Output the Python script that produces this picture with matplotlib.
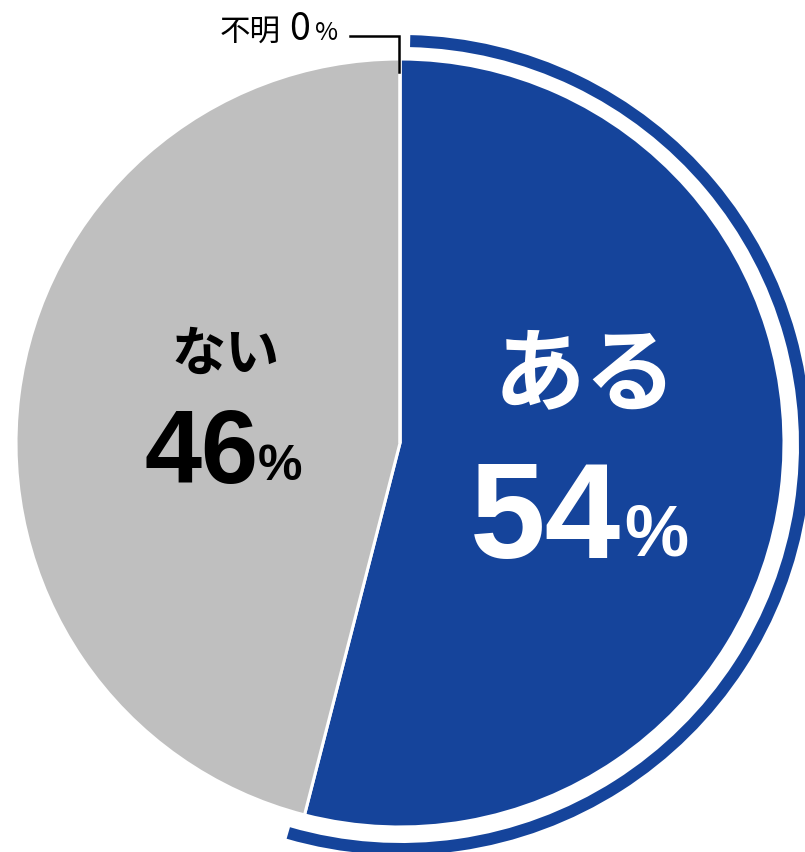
import matplotlib
matplotlib.use("Agg")
import matplotlib.pyplot as plt
from matplotlib.patches import Wedge

# Survey shares (percent)
labels = ["ある", "ない", "不明"]
values = [54, 46, 0]
colors = ["#15449B", "#BFBFBF", "#BFBFBF"]

W, H = 805, 852
fig = plt.figure(figsize=(W / 100, H / 100), dpi=100)
ax = fig.add_axes([0, 0, 1, 1])

cx, cy, R = 400, H - 443, 384

ax.pie(values, colors=colors, startangle=90, counterclock=False,
       center=(cx, cy), radius=R, frame=True,
       wedgeprops=dict(edgecolor="white", linewidth=2.2))
ax.set_xlim(0, W)
ax.set_ylim(0, H)
ax.set_aspect("equal")
ax.axis("off")

# Highlight ring around the "ある" slice
total = sum(values)
t_end = 90 - 360 * values[0] / total
ring = Wedge((cx + 1, cy - 2), 410, t_end - 1.8, 90 - 1.3, width=12,
             facecolor="#15449B", edgecolor="none")
ax.add_patch(ring)

jp = ["Noto Sans CJK JP", "DejaVu Sans"]
num = ["Liberation Sans", "DejaVu Sans"]

# ある 54%
ax.text(585, H - 376, labels[0], color="white", fontsize=66, fontweight="bold",
        family=jp, ha="center", va="center")
ax.text(545, H - 523, f"{values[0]}", color="white", fontsize=98, fontweight="bold",
        family=num, ha="center", va="center")
ax.text(656, H - 536, "%", color="white", fontsize=52, fontweight="bold",
        family=num, ha="center", va="center")

# ない 46%
ax.text(226, H - 355, labels[1], color="black", fontsize=39, fontweight="bold",
        family=jp, ha="center", va="center")
ax.text(202, H - 457, f"{values[1]}", color="black", fontsize=74, fontweight="bold",
        family=num, ha="center", va="center")
ax.text(280, H - 467, "%", color="black", fontsize=36, fontweight="bold",
        family=num, ha="center", va="center")

# 不明 0% with leader line
ax.text(250, H - 32, labels[2], color="black", fontsize=22,
        family=jp, ha="center", va="center")
ax.text(300, H - 30, f"{values[2]}", color="black", fontsize=27,
        family=jp, ha="center", va="center")
ax.text(327, H - 33, "%", color="black", fontsize=18,
        family=jp, ha="center", va="center")
ax.plot([350, 399, 399], [H - 36, H - 36, H - 72], color="black",
        linewidth=1.8, solid_joinstyle="miter")

fig.savefig("out.png", dpi=100)
